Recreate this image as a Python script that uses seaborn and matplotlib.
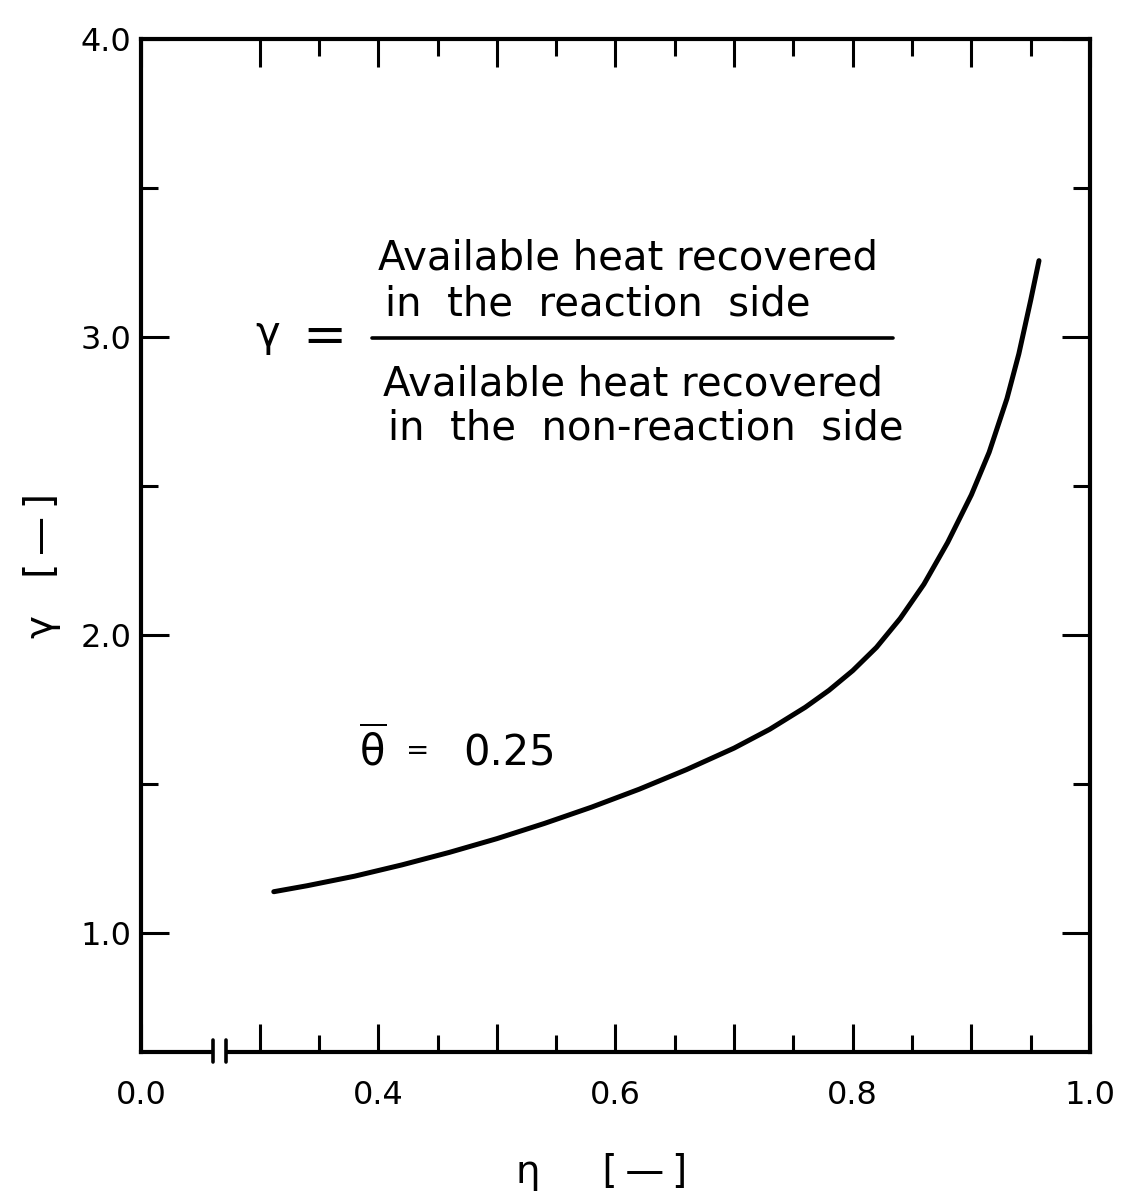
import numpy as np
import matplotlib
matplotlib.use("Agg")
import matplotlib.pyplot as plt
import seaborn as sns
import pandas as pd
from matplotlib.ticker import FixedLocator, FixedFormatter

# ---------------- data ----------------
eta = [0.312, 0.34, 0.38, 0.42, 0.46, 0.50, 0.54, 0.58, 0.62, 0.66, 0.70,
       0.73, 0.76, 0.78, 0.80, 0.82, 0.84, 0.86, 0.88, 0.90, 0.915, 0.93,
       0.94, 0.95, 0.957]
gamma = [1.138, 1.158, 1.190, 1.228, 1.270, 1.316, 1.367, 1.422, 1.482,
         1.548, 1.620, 1.683, 1.757, 1.814, 1.880, 1.958, 2.055, 2.170,
         2.310, 2.470, 2.613, 2.793, 2.943, 3.123, 3.256]

x_major = [0.0, 0.3, 0.4, 0.5, 0.6, 0.7, 0.8, 0.9, 1.0]
x_labels = ["0.0", "", "0.4", "", "0.6", "", "0.8", "", "1.0"]
x_minor = [0.35, 0.45, 0.55, 0.65, 0.75, 0.85, 0.95]
y_major = [1.0, 2.0, 3.0, 4.0]
y_labels = ["1.0", "2.0", "3.0", "4.0"]
y_minor = [1.5, 2.5, 3.5]

num_lines = ["Available heat recovered", "in  the  reaction  side"]
den_lines = ["Available heat recovered", "in  the  non-reaction  side"]
theta_value = "0.25"

# ---------------- style ----------------
sns.set_theme(style="ticks")
plt.rcParams["font.family"] = ["DejaVu Sans"]
plt.rcParams["mathtext.fontset"] = "dejavusans"
for k in ("text.color", "axes.labelcolor", "xtick.color", "ytick.color",
          "axes.edgecolor"):
    plt.rcParams[k] = "black"

W, H = 1121, 1192
fig = plt.figure(figsize=(W / 100, H / 100), dpi=100)
fig.patch.set_facecolor("white")

L, R, T, B = 141, 1090, 39, 1052
ax = fig.add_axes([L / W, 1 - B / H, (R - L) / W, (B - T) / H])
ax.set_facecolor("white")

# broken x axis via function scale
XB, K = 0.27, 0.259


def fwd(x):
    x = np.asarray(x, dtype=float)
    return np.where(x < XB, x * K, XB * K + (x - XB))


def inv(u):
    u = np.asarray(u, dtype=float)
    return np.where(u < XB * K, u / K, u - XB * K + XB)


ax.set_xscale("function", functions=(fwd, inv))

df = pd.DataFrame({"eta": eta, "gamma": gamma})
sns.lineplot(data=df, x="eta", y="gamma", ax=ax, color="black",
             linewidth=3.6, sort=True, estimator=None)

ax.set_xlim(0.0, 1.0)
ax.set_ylim(0.60, 4.0)

ax.xaxis.set_major_locator(FixedLocator(x_major))
ax.xaxis.set_major_formatter(FixedFormatter(x_labels))
ax.xaxis.set_minor_locator(FixedLocator(x_minor))
ax.yaxis.set_major_locator(FixedLocator(y_major))
ax.yaxis.set_major_formatter(FixedFormatter(y_labels))
ax.yaxis.set_minor_locator(FixedLocator(y_minor))

for s in ax.spines.values():
    s.set_linewidth(3.0)
    s.set_color("black")
    s.set_visible(True)

ax.tick_params(which="both", direction="in", top=True, right=True,
               colors="black", width=2.2)
ax.tick_params(which="major", length=20)
ax.tick_params(which="minor", length=12)
ax.tick_params(axis="x", which="major", labelsize=23, pad=20)
ax.tick_params(axis="y", which="major", labelsize=23, pad=7)

ax.set_xlabel("η     [\u2009—\u2009]", fontsize=28)
ax.xaxis.set_label_coords((602 - L) / (R - L), (B - 1172) / (B - T))
ax.xaxis.label.set_va("center")
ax.set_ylabel("γ   [\u2009—\u2009]", fontsize=28)
ax.yaxis.set_label_coords((42 - L) / (R - L), (B - 565) / (B - T))
ax.yaxis.label.set_va("center")

# axis break marks
ta = ax.transAxes
ax.plot([0.076, 0.090], [0, 0], transform=ta, color="white", lw=5,
        clip_on=False, zorder=5, solid_capstyle="butt")
for xb in (0.076, 0.090):
    ax.plot([xb, xb], [-0.010, 0.012], transform=ta, color="black", lw=2.6,
            clip_on=False, zorder=6)


def fx(px):
    return (px - L) / (R - L)


def fy(py):
    return (B - py) / (B - T)


# formula annotation
ax.text(fx(268), fy(334), "γ", transform=ta, fontsize=30, ha="center",
        va="center")
ax.text(fx(324), fy(337), "=", transform=ta, fontsize=38, ha="center",
        va="center")
ax.text(fx(378), fy(270), num_lines[0], transform=ta, fontsize=29,
        ha="left", va="baseline")
ax.text(fx(385), fy(315), num_lines[1], transform=ta, fontsize=29,
        ha="left", va="baseline")
ax.plot([fx(372), fx(893)], [fy(338), fy(338)], transform=ta, color="black",
        lw=2.6)
ax.text(fx(383), fy(396), den_lines[0], transform=ta, fontsize=29,
        ha="left", va="baseline")
ax.text(fx(388), fy(440), den_lines[1], transform=ta, fontsize=29,
        ha="left", va="baseline")

ax.text(fx(373), fy(765), r"$\overline{\mathrm{\theta}}$", transform=ta,
        fontsize=30, ha="center", va="baseline")
ax.text(fx(418), fy(751), "=", transform=ta, fontsize=20, ha="center",
        va="center")
ax.text(fx(463), fy(765), theta_value, transform=ta, fontsize=30,
        ha="left", va="baseline")

fig.savefig("out.png", dpi=100, facecolor="white")
